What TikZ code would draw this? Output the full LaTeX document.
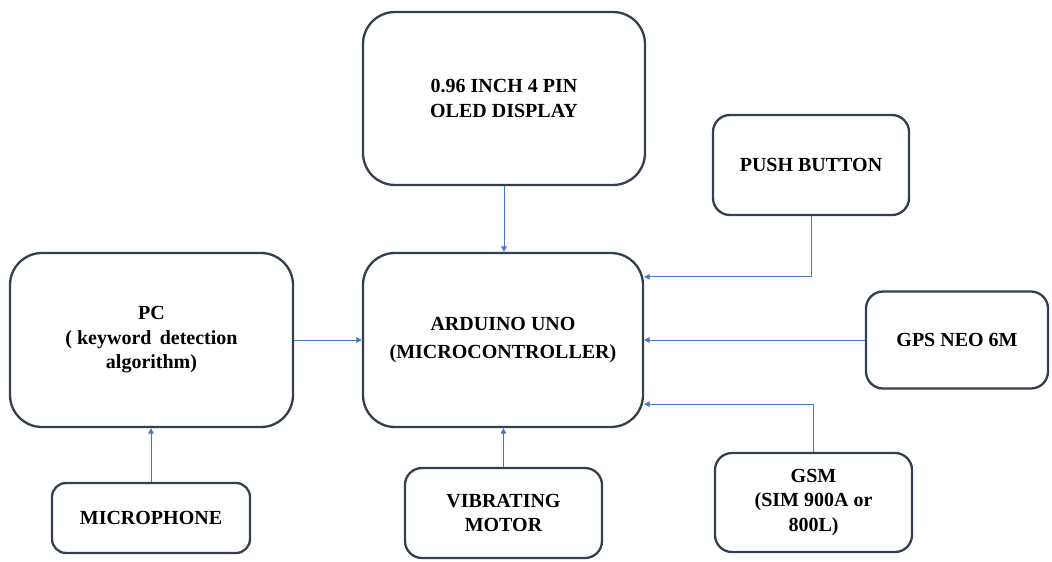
\documentclass[tikz,border=0pt]{standalone}
\usepackage{fontspec}
\newfontfamily\tnr{Liberation Serif}[BoldFont={Liberation Serif Bold}]
\usetikzlibrary{arrows.meta}
\definecolor{boxc}{HTML}{333F50}
\definecolor{linec}{HTML}{4A74C6}
\begin{document}
\begin{tikzpicture}[x=1pt,y=-1pt,
  blk/.style={draw=boxc, line width=2.3pt, fill=white, align=center,
    font=\tnr\bfseries\fontsize{20}{24.5}\selectfont, inner sep=0pt},
  bigr/.style={rounded corners=32pt},
  smallr/.style={rounded corners=17pt},
  conn/.style={draw=linec, line width=1pt, -{Triangle[width=5.5pt,length=5.5pt]}}]
\useasboundingbox (0,0) rectangle (1052,562);

\node[blk, bigr, minimum width=282pt, minimum height=173pt] (oled) at (504,98.5) {0.96 INCH 4 PIN\\OLED DISPLAY};
\node[blk, smallr, minimum width=196pt, minimum height=100pt] (push) at (811,165) {PUSH BUTTON};
\node[blk, bigr, minimum width=283pt, minimum height=174pt] (pc) at (151.5,340) {PC\\( keyword\, detection\\algorithm)};
\node[blk, bigr, minimum width=280pt, minimum height=174pt, font=\tnr\bfseries\fontsize{20}{28}\selectfont] (ard) at (503,340) {ARDUINO UNO\\(MICROCONTROLLER)};
\node[blk, smallr, minimum width=182pt, minimum height=97pt] (gps) at (957,340) {GPS NEO 6M};
\node[blk, smallr, rounded corners=14pt, minimum width=198pt, minimum height=70pt] (mic) at (151,518) {MICROPHONE};
\node[blk, smallr, minimum width=197pt, minimum height=90pt] (vib) at (503.5,513) {VIBRATING\\MOTOR};
\node[blk, smallr, minimum width=197pt, minimum height=99pt] (gsm) at (813.5,502.5) {GSM\\(SIM 900A or\\800L)};

\draw[conn] (oled.south) -- (oled.south |- ard.north);
\draw[conn] (push.south) |- ([yshift=-25pt]ard.north east);
\draw[conn] (gps.west) -- (gps.west -| ard.east);
\draw[conn] (gsm.north) |- ([yshift=24pt]ard.south east);
\draw[conn] (pc.east) -- (pc.east -| ard.west);
\draw[conn] (mic.north) -- (mic.north |- pc.south);
\draw[conn] (vib.north) -- (vib.north |- ard.south);
\end{tikzpicture}
\end{document}
